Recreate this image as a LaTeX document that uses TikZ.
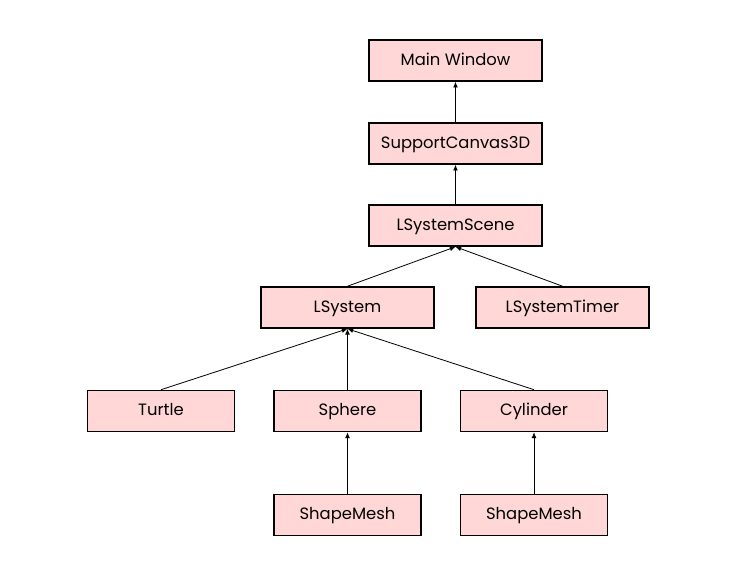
\documentclass[tikz,border=0pt]{standalone}
\usepackage{fontspec}
\setmainfont{Poppins}
\usepackage{tikz}
\usetikzlibrary{arrows.meta,positioning}
\definecolor{boxpink}{HTML}{FFD7D7}
\tikzset{
  cls/.style      = {draw=black, line width=1.2pt, fill=boxpink, minimum height=30.75pt,
                     minimum width=129.75pt, inner sep=2pt, align=center,
                     text height=1.6ex, text depth=0.3ex},
  clsnarrow/.style = {cls, minimum width=110pt},
  dep/.style      = {-{Latex[length=1.5mm,width=1.3mm]}, semithick},
  every node/.style = {font=\fontsize{12.3}{14}\selectfont},
}
\begin{document}
\begin{tikzpicture}[x=0.75pt,y=-0.75pt]
  \useasboundingbox (0,0) rectangle (737,576);
  % top chain
  \node[cls] (mainwin) at (455.5,60.5)  {Main Window};
  \node[cls] (canvas)  at (455.5,143.5) {SupportCanvas3D};
  \node[cls] (scene)   at (455.5,225.5) {LSystemScene};
  % second row
  \node[cls] (lsys)    at (347.5,307.5) {LSystem};
  \node[cls] (timer)   at (562.5,307.5) {LSystemTimer};
  % third row
  \node[clsnarrow] (turtle)   at (161,411)   {Turtle};
  \node[clsnarrow] (sphere)   at (347.5,411) {Sphere};
  \node[clsnarrow] (cylinder) at (534,411)   {Cylinder};
  % meshes
  \node[clsnarrow] (meshA) at (347.5,515) {ShapeMesh};
  \node[clsnarrow] (meshB) at (534,515)   {ShapeMesh};
  % connectors
  \draw[dep] (canvas) -- (mainwin);
  \draw[dep] (scene) -- (canvas);
  \draw[dep] (lsys.north) -- (scene.south);
  \draw[dep] (timer.north) -- (scene.south);
  \draw[dep] (turtle.north) -- (lsys.south);
  \draw[dep] (sphere) -- (lsys);
  \draw[dep] (cylinder.north) -- (lsys.south);
  \draw[dep] (meshA) -- (sphere);
  \draw[dep] (meshB) -- (cylinder);
\end{tikzpicture}
\end{document}
